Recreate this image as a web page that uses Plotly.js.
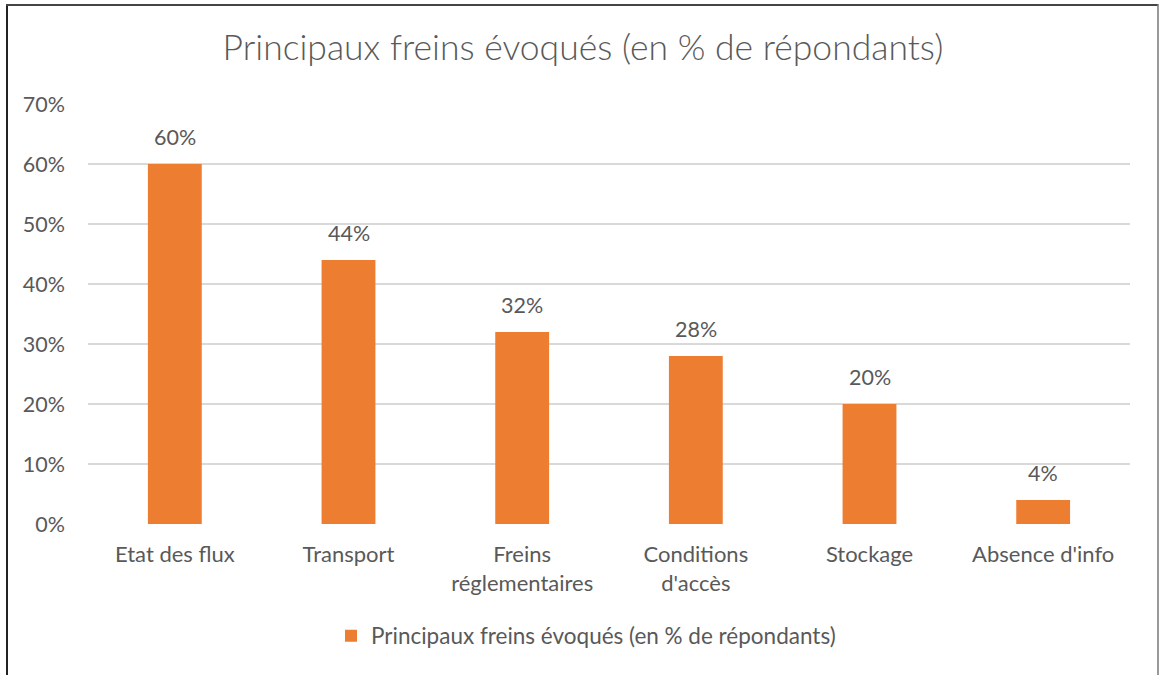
<!DOCTYPE html>
<html>
<head>
<meta charset="utf-8">
<script src="https://cdn.plot.ly/plotly-3.0.1.min.js"></script>
<style>
  html, body { margin: 0; padding: 0; background: #fff; }
  #chart { width: 1159px; height: 675px; }
</style>
</head>
<body>
<div id="chart"></div>
<script>
// data
const categories = ['Etat des flux', 'Transport', 'Freins<br>réglementaires', "Conditions<br>d'accès", 'Stockage', "Absence d'info"];
const values = [0.60, 0.44, 0.32, 0.28, 0.20, 0.04];
const seriesName = 'Principaux freins évoqués (en % de répondants)';
const yTicks = [0, 0.1, 0.2, 0.3, 0.4, 0.5, 0.6, 0.7];

const textColor = '#595959';
const fontFamily = 'Lato, "Open Sans", sans-serif';

const trace = {
    type: 'bar',
    x: categories,
    y: values,
    name: seriesName,
    marker: { color: '#ED7D31' },
    showlegend: true,
    hoverinfo: 'none'
};

// value labels above each bar
const labels = categories.map((c, i) => ({
    x: c,
    y: values[i],
    xref: 'x',
    yref: 'y',
    text: Math.round(values[i] * 100) + '%',
    showarrow: false,
    yanchor: 'bottom',
    yshift: 12,
    font: { size: 21.5, color: textColor, family: fontFamily }
}));

// frame around the chart, in paper units of the plot area (88..1130 x, 104..524 y)
const px = x => (x - 88) / 1042;
const py = y => (524 - y) / 420;

const layout = {
    width: 1159,
    height: 675,
    margin: { l: 88, r: 29, t: 104, b: 151 },
    paper_bgcolor: '#ffffff',
    plot_bgcolor: '#ffffff',
    font: { family: fontFamily, color: textColor, size: 22 },
    title: {
        text: seriesName,
        font: { size: 35.5, color: textColor, family: fontFamily, weight: 300 },
        x: 0.503,
        xanchor: 'center',
        y: 1 - 48 / 675,
        yanchor: 'middle'
    },
    bargap: 0.69,
    xaxis: {
        showline: false,
        ticks: '',
        tickfont: { size: 22, color: textColor },
        ticklabelstandoff: 15
    },
    yaxis: {
        range: [0, 0.7],
        tickvals: yTicks,
        tickformat: '.0%',
        showgrid: true,
        gridcolor: '#d9d9d9',
        gridwidth: 1.5,
        zeroline: false,
        showline: false,
        ticks: '',
        tickfont: { size: 21.5, color: textColor },
        ticklabelstandoff: 22
    },
    legend: {
        orientation: 'h',
        x: px(586),
        xanchor: 'center',
        y: py(636),
        yanchor: 'middle',
        itemwidth: 30,
        font: { size: 22.5, color: textColor }
    },
    annotations: labels,
    shapes: [
        { type: 'line', xref: 'paper', yref: 'paper', x0: px(7), x1: px(7), y0: py(4), y1: py(700), line: { color: '#222', width: 2 } },
        { type: 'line', xref: 'paper', yref: 'paper', x0: px(6), x1: px(1158), y0: py(5), y1: py(5), line: { color: '#444', width: 2 } },
        { type: 'line', xref: 'paper', yref: 'paper', x0: px(1158), x1: px(1158), y0: py(4), y1: py(700), line: { color: '#777', width: 1.5 } }
    ]
};

Plotly.newPlot('chart', [trace], layout, { displayModeBar: false, staticPlot: true });
</script>
</body>
</html>
